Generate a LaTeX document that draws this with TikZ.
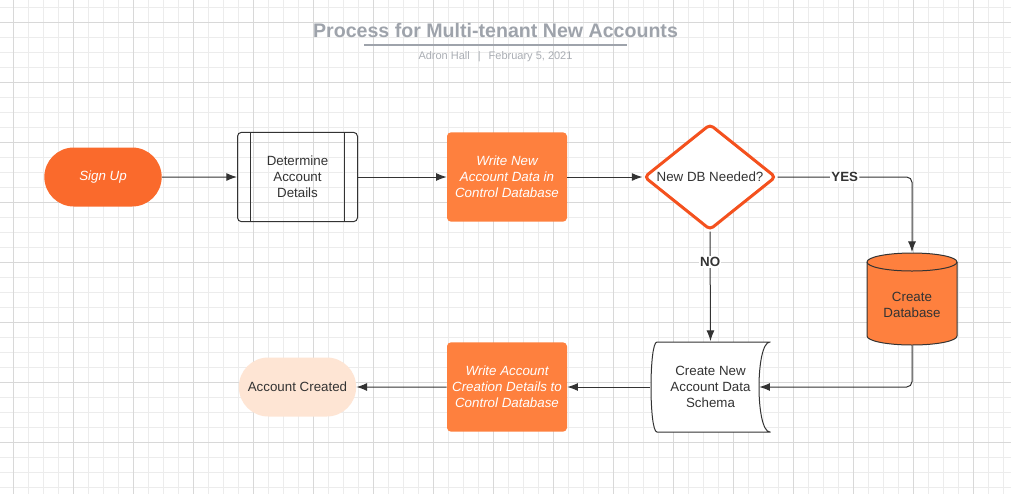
\documentclass[tikz,border=0pt]{standalone}
\usepackage{fontspec}
\setmainfont{Liberation Sans}
\usepackage{tikz}
\usetikzlibrary{arrows.meta}
\usetikzlibrary{shapes.misc}
\usetikzlibrary{shapes.geometric}
\definecolor{linegray}{RGB}{51,51,51}
\definecolor{titlegray}{RGB}{158,163,171}
\definecolor{bylinegray}{RGB}{170,174,180}
\definecolor{gridminor}{RGB}{236,236,236}
\definecolor{gridmajor}{RGB}{216,216,216}
\definecolor{signorange}{RGB}{250,106,44}
\definecolor{boxorange}{RGB}{254,128,62}
\definecolor{decorange}{RGB}{244,81,30}
\definecolor{peach}{RGB}{254,229,212}
\newcommand{\widthbox}{90pt}
\newcommand{\heightbox}{67pt}
\newcommand{\barsep}{9.75pt}
\newcommand{\dblift}{\rule{0pt}{16pt}}
\tikzset{
    common/.style={align=center, text=linegray, minimum width=\widthbox, minimum height=\heightbox, inner sep=1pt},
    terminal/.style={common, rounded rectangle, minimum height=44.25pt},
    process/.style={common, draw=linegray, line width=0.75pt, rounded corners=3pt,
        path picture={
            \draw[linegray, line width=0.75pt]
                ([xshift=\barsep]path picture bounding box.north west)--([xshift=\barsep]path picture bounding box.south west)
                ([xshift=-\barsep]path picture bounding box.north east)--([xshift=-\barsep]path picture bounding box.south east);
        }
    },
    writebox/.style={common, fill=boxorange, rounded corners=3pt, text=white, font=\itshape},
    decision/.style={diamond, aspect=1.25, draw=decorange, line width=2.25pt, fill=white, rounded corners=3pt,
        text=linegray, minimum width=99pt, minimum height=79.5pt, inner sep=0pt},
    datastore/.style={common, minimum width=68.5pt, minimum height=70pt,
        path picture={
            \path[fill=boxorange, draw=linegray, line width=0.75pt]
                ([xshift=0.5pt,yshift=-7.25pt]path picture bounding box.north west)
                --([xshift=0.5pt,yshift=7.25pt]path picture bounding box.south west)
                arc[start angle=180, end angle=360, x radius=33.75pt, y radius=6.75pt]
                --([xshift=-0.5pt,yshift=-7.25pt]path picture bounding box.north east)
                arc[start angle=0, end angle=180, x radius=33.75pt, y radius=6.75pt] -- cycle;
            \draw[linegray, line width=0.75pt]
                ([xshift=0.5pt,yshift=-7.25pt]path picture bounding box.north west)
                arc[start angle=180, end angle=360, x radius=33.75pt, y radius=6.75pt];
        }
    },
    schemabox/.style={common, minimum width=90.25pt, minimum height=68.5pt,
        path picture={
            \path[fill=white, draw=linegray, line width=0.75pt]
                ([xshift=5pt,yshift=-0.5pt]path picture bounding box.north west)
                --([xshift=-0.5pt,yshift=-0.5pt]path picture bounding box.north east)
                .. controls ([xshift=-11.5pt,yshift=-0.5pt]path picture bounding box.north east)
                and ([xshift=-11.5pt,yshift=0.5pt]path picture bounding box.south east)
                .. ([xshift=-0.5pt,yshift=0.5pt]path picture bounding box.south east)
                --([xshift=5pt,yshift=0.5pt]path picture bounding box.south west)
                .. controls ([xshift=-1pt,yshift=0.5pt]path picture bounding box.south west)
                and ([xshift=-1pt,yshift=-0.5pt]path picture bounding box.north west)
                .. cycle;
        }
    },
    flow/.style={draw=linegray, line width=0.75pt, -{Latex[length=8pt, width=6pt]}},
    answer/.style={fill=white, font=\bfseries, text=linegray, inner sep=1pt},
    gridline/.style={line width=0.75pt}
}

\begin{document}
\begin{tikzpicture}[x=0.75pt, y=-0.75pt]
    \useasboundingbox (0,0) rectangle (1011,494);
    \fill[white] (0,0) rectangle (1011,494);
    \begin{scope}
        \clip (0,0) rectangle (1011,494);
        \foreach \gx in {-2,13,...,1018} \draw[gridline, gridminor] (\gx,0) -- (\gx,494);
        \foreach \gy in {7,22,...,494} \draw[gridline, gridminor] (0,\gy) -- (1011,\gy);
        \foreach \gx in {13,73,...,1011} \draw[gridline, gridmajor] (\gx,0) -- (\gx,494);
        \foreach \gy in {22,82,...,494} \draw[gridline, gridmajor] (0,\gy) -- (1011,\gy);
    \end{scope}

    \node[font=\bfseries\fontsize{14.7}{17}\selectfont, text=titlegray] (title) at (495.5,30) {Process for Multi-tenant New Accounts};
    \draw[titlegray, line width=1.5pt] (364,45) -- (627,45);
    \node[font=\fontsize{8.25}{10}\selectfont, text=bylinegray] (byline) at (495.5,57) {Adron Hall\hspace{6pt}|\hspace{6pt}February 5, 2021};

    \path
        node[terminal, fill=signorange, text=white, font=\itshape] (signup) at (103,177) {Sign Up}
        node[process] (details) at (297.5,177) {Determine\\Account\\Details}
        node[writebox] (writenew) at (507,177) {Write New\\Account Data in\\Control Database}
        node[decision] (newdb) at (710,177) {New DB Needed?};
    \path
        node[datastore] (db) at (912,299) {\dblift Create\\Database}
        node[schemabox] (schema) at (710.5,387) {Create New\\Account Data\\Schema}
        node[writebox] (writedone) at (507,387) {Write Account\\Creation Details to\\Control Database}
        node[terminal, fill=peach] (created) at (297.5,387) {Account Created};

    \draw[flow] (signup) -- (details);
    \draw[flow] (details) -- (writenew);
    \draw[flow] (writenew) -- (newdb);
    \draw[flow, rounded corners=4pt] (newdb.east) -| node[answer, pos=0.25] {YES} (db.north);
    \draw[flow] (newdb.south) -- node[answer, pos=0.28] {NO} (schema.north);
    \draw[flow, rounded corners=4pt] (db.south) |- ([xshift=-8.75pt]schema.east);
    \draw[flow] (schema.west) -- (writedone);
    \draw[flow] (writedone) -- (created);
\end{tikzpicture}
\end{document}
